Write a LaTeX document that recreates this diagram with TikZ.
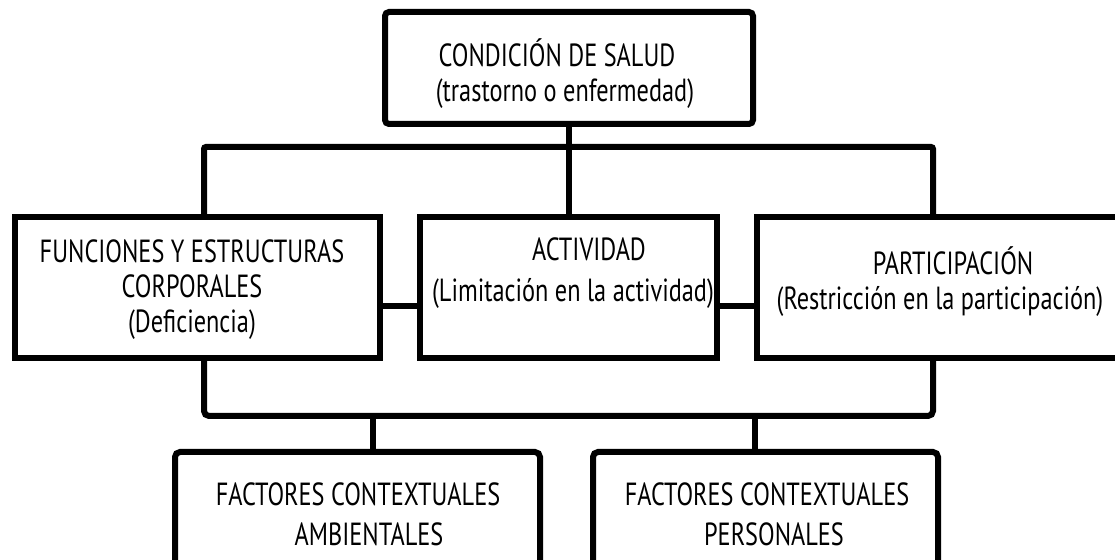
\documentclass[tikz,border=0pt]{standalone}
\usepackage{fontspec}
\setmainfont[FakeStretch=0.76]{PT Sans}
\usepackage{xcolor}
\usetikzlibrary{positioning}

\tikzset{
  caja/.style={draw=black,line width=6pt,inner sep=0pt,outer sep=0pt},
  texto/.style={align=center,font=\fontsize{32}{35}\selectfont},
  linea/.style={black,line width=6pt}
}

\begin{document}
\begin{tikzpicture}[x=1pt,y=1pt]
    %marco
    \clip (0,0) rectangle (1115,559);

    %cajas
    \node[caja,rounded corners=4pt,minimum width=368pt,minimum height=112pt] (salud) at (569,491) {};
    \node[caja,minimum width=365pt,minimum height=141pt] (func) at (197.5,271.5) {};
    \node[caja,minimum width=297pt,minimum height=141pt] (activ) at (568.5,271.5) {};
    \node[caja,minimum width=373pt,minimum height=141pt] (part) at (943.5,271.5) {};
    \node[caja,rounded corners=5pt,minimum width=365pt,minimum height=133pt] (amb) at (357.5,40.5) {};
    \node[caja,rounded corners=5pt,minimum width=345pt,minimum height=133pt] (pers) at (765.5,40.5) {};

    %textos
    \node[texto] (tsalud) at (565,485.5) {CONDICIÓN DE SALUD\hspace*{16pt}\\(trastorno o enfermedad)};
    \node[texto] (tfunc) at (192,269) {FUNCIONES Y ESTRUCTURAS\\CORPORALES\\(Deficiencia)};
    \node[texto] (tactiv) at (573,285.5) {\hspace*{32pt}ACTIVIDAD\\[6pt](Limitación en la actividad)};
    \node[texto] (tpart) at (940,277) {\hspace*{26pt}PARTICIPACIÓN\\(Restricción en la participación)};
    \node[texto] (tamb) at (358,45) {FACTORES CONTEXTUALES\\[5pt]\hspace*{22pt}AMBIENTALES};
    \node[texto] (tpers) at (767,45) {FACTORES CONTEXTUALES\\[5pt]\hspace*{14pt}PERSONALES};

    %conectores
    \coordinate (ai) at (204,412);
    \coordinate (ad) at (933,412);
    \coordinate (bi) at (204,143);
    \coordinate (bd) at (933,143);
    \coordinate (ca) at (373,143);
    \coordinate (cp) at (755,143);
    \draw[linea,rounded corners=2pt] (ai |- func.north) -- (ai) -- (ad) -- (ad |- part.north);
    \draw[linea] (salud.south) -- (salud.south |- ai);
    \draw[linea] (activ.north) -- (activ.north |- ai);
    \draw[linea,rounded corners=5pt] (bi |- func.south) -- (bi) -- (bd) -- (bd |- part.south);
    \draw[linea] (ca) -- (ca |- amb.north);
    \draw[linea] (cp) -- (cp |- pers.north);
    \draw[linea] ([yshift=-18.5pt]func.east) -- ([yshift=-18.5pt]activ.west);
    \draw[linea] ([yshift=-18.5pt]activ.east) -- ([yshift=-18.5pt]part.west);
\end{tikzpicture}
\end{document}
